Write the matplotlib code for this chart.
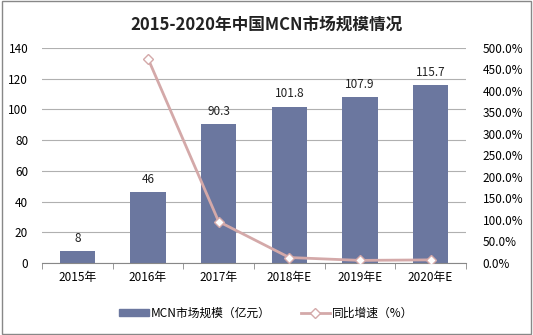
import numpy as np
import matplotlib.pyplot as plt
from matplotlib.lines import Line2D
from matplotlib.patches import Patch

plt.rcParams['font.family'] = ['Noto Sans CJK SC', 'DejaVu Sans']

years = ['2015年', '2016年', '2017年', '2018年E', '2019年E', '2020年E']
scale = [8, 46, 90.3, 101.8, 107.9, 115.7]
growth = [None, 475.0, 96.3, 12.7, 6.0, 7.2]

bar_color = '#6b779f'
line_color = '#d4a9a9'

fig = plt.figure(figsize=(5.33, 3.35), dpi=100)
ax = fig.add_axes([0.079, 0.215, 0.795, 0.642])
ax2 = ax.twinx()

x = np.arange(len(years))
ax.bar(x, scale, width=0.5, color=bar_color, zorder=2)
for xi, v in zip(x, scale):
    ax.text(xi, v + 4, f'{v:g}', ha='center', va='bottom', fontsize=8.5, color='#222222')

ax.set_xlim(-0.5, len(years) - 0.5)
ax.set_ylim(0, 140)
ax.set_yticks(range(0, 141, 20))
ax.yaxis.grid(True, color='#b0b0b0', linewidth=0.8)
ax.set_axisbelow(True)
ax.set_xticks(x)
ax.set_xticklabels(years, fontsize=8.5)
ax.set_xticks(np.arange(-0.5, len(years), 1), minor=True)
ax.tick_params(axis='x', which='major', length=0, pad=6)
ax.tick_params(axis='x', which='minor', length=4, color='#888888')
ax.tick_params(axis='y', length=0, labelsize=8.5, pad=10)
for s in ['top', 'right', 'left']:
    ax.spines[s].set_visible(False)
ax.spines['bottom'].set_color('#888888')

gx = [xi for xi, g in zip(x, growth) if g is not None]
gy = [g for g in growth if g is not None]
ax2.plot(gx, gy, color=line_color, linewidth=2, marker='D', markersize=5,
         markerfacecolor='white', markeredgecolor=line_color, zorder=3)
ax2.set_ylim(0, 500)
ax2.set_yticks(range(0, 501, 50))
ax2.set_yticklabels([f'{v:.1f}%' for v in range(0, 501, 50)], fontsize=8.5)
ax2.tick_params(axis='y', length=0, pad=12)
for s in ['top', 'right', 'left', 'bottom']:
    ax2.spines[s].set_visible(False)

fig.text(0.5, 0.925, '2015-2020年中国MCN市场规模情况', ha='center', va='center',
         fontsize=12, fontweight='bold', color='#222222')

handles = [Patch(color=bar_color),
           Line2D([], [], color=line_color, linewidth=2, marker='D', markersize=5,
                  markerfacecolor='white', markeredgecolor=line_color)]
fig.legend(handles, ['MCN市场规模（亿元）', '同比增速（%）'], loc='center',
           bbox_to_anchor=(0.5, 0.065), ncol=2, frameon=False, fontsize=8.5,
           handlelength=2.5, handleheight=0.5, columnspacing=2.5, handletextpad=0.2)

fig.patches.append(plt.Rectangle((0.003, 0.003), 0.994, 0.994, transform=fig.transFigure,
                                 fill=False, edgecolor='#888888', linewidth=1))

fig.savefig('out.png', dpi=100)
